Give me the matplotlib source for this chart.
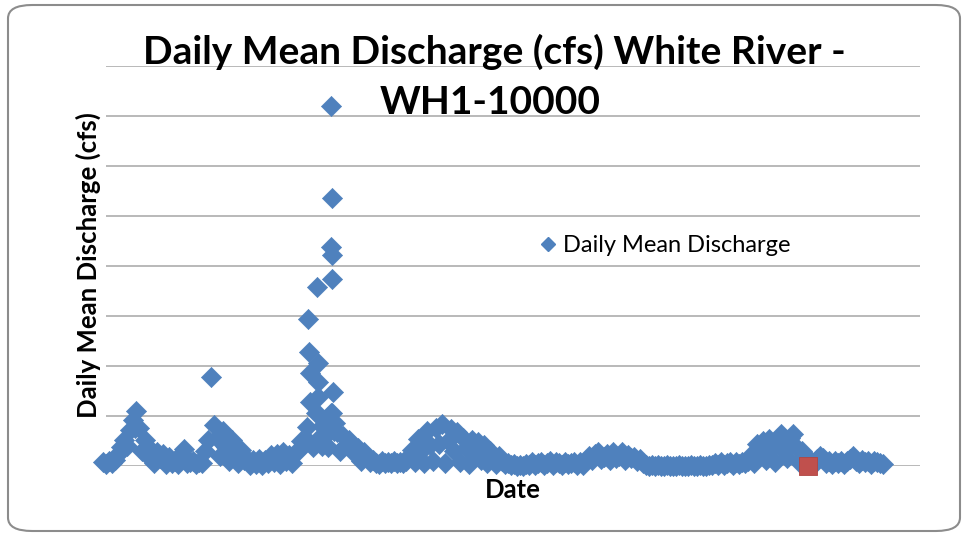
import numpy as np
import matplotlib
matplotlib.use("Agg")
import matplotlib.pyplot as plt
from matplotlib.patches import FancyBboxPatch
from matplotlib.lines import Line2D

plt.rcParams['font.family'] = ['Lato', 'DejaVu Sans']

# daily mean discharge (cfs), one reading every 3 days from day 0
step = 3
flow = [
    80, 50, 100, 60, 120, 240, 380, 520, 400, 720,
    920, 1100, 760, 300, 520, 200, 320, 60, 280, 160,
    240, 40, 180, 60, 100, 40, 240, 340, 60, 80,
    100, 40, 90, 60, 300, 520, 1780, 820, 560, 200,
    700, 380, 100, 520, 300, 60, 320, 120, 140, 20,
    120, 40, 140, 20, 120, 60, 220, 80, 240, 40,
    280, 100, 220, 60, 260, 300, 500, 440, 780, 460,
    380, 1060, 560, 400, 600, 380, 1060, 700, 680, 300,
    600, 420, 520, 440, 240, 360, 100, 280, 200, 80,
    120, 60, 40, 100, 60, 90, 60, 100, 60, 90,
    70, 100, 200, 320, 80, 540, 300, 60, 700, 420,
    100, 760, 440, 840, 60, 500, 740, 300, 680, 80,
    560, 360, 40, 520, 260, 480, 120, 420, 60, 300,
    180, 40, 200, 100, 40, 60, 20, 40, 10, 30,
    10, 40, 20, 80, 20, 60, 80, 20, 60, 100,
    30, 80, 60, 20, 80, 40, 60, 90, 30, 80,
    20, 120, 200, 120, 240, 280, 140, 180, 240, 120,
    280, 160, 200, 280, 120, 220, 160, 180, 100, 140,
    60, 20, 10, 20, 10, 15, 10, 10, 15, 10,
    10, 10, 15, 10, 10, 10, 15, 10, 10, 15,
    10, 10, 20, 15, 60, 20, 80, 30, 70, 80,
    20, 80, 40, 80, 60, 100, 220, 60, 440, 300,
    500, 120, 540, 360, 80, 560, 640, 300, 160, 560,
    640, 380, 80, 300, 200, 60, 100, 40, 140, 200,
    160, 60, 100, 40, 100, 60, 100, 40, 100, 140,
    200, 100, 60, 120, 80, 100, 40, 100, 80, 60,
    40,
]
days = np.arange(len(flow)) * step

# extra readings taken during the big storm
storm_days = [228, 229, 228, 229, 229, 214, 205, 206, 215, 207, 215, 230, 207,
              215, 214, 229, 32, 219, 223, 232]
storm_flow = [7200, 5360, 4380, 4220, 3740, 3580, 2940, 2280, 2060, 1860, 1680,
              1480, 1280, 1380, 1060, 1060, 760, 800, 880, 860]

# single sample reading
sample_day = [705]
sample_flow = [0]

all_days = np.concatenate([days, storm_days])
all_flow = np.concatenate([flow, storm_flow])

blue = '#4F81BD'
red = '#C0504D'

fig = plt.figure(figsize=(9.66, 5.36), dpi=100)
ax = fig.add_axes([106 / 966, 1 - 466 / 536, 814 / 966, 400 / 536])

ax.scatter(all_days, all_flow, marker='D', s=105, color=blue,
           edgecolors=blue, linewidths=0.5, zorder=3, clip_on=False)
ax.scatter(sample_day, sample_flow, marker='s', s=185, color=red,
           edgecolors='#B04542', linewidths=0.6, zorder=4, clip_on=False)

ax.set_xlim(3, 817)
ax.set_ylim(0, 8000)
ax.set_yticks(np.arange(0, 8001, 1000))
ax.set_xticks([])
ax.tick_params(left=False, labelleft=False, bottom=False, labelbottom=False)
ax.grid(axis='y', color='#A6A6A6', linewidth=1.1, zorder=0)
for s in ax.spines.values():
    s.set_visible(False)

handle = Line2D([], [], linestyle='none', marker='D', markersize=7.5,
                color=blue, markeredgecolor=blue)
ax.legend([handle], ['Daily Mean Discharge'], frameon=False,
          loc='center left', bbox_to_anchor=(528 / 966, 1 - 246 / 536),
          bbox_transform=fig.transFigure, fontsize=17, handletextpad=0.2,
          handlelength=0.9, borderaxespad=0)

fig.text(494 / 966, 1 - 52 / 536, 'Daily Mean Discharge (cfs) White River -',
         ha='center', va='center', fontsize=28, fontweight='bold')
fig.text(490 / 966, 1 - 103 / 536, 'WH1-10000',
         ha='center', va='center', fontsize=28, fontweight='bold')
fig.text(88 / 966, 1 - 265 / 536, 'Daily Mean Discharge (cfs)',
         ha='center', va='center', rotation=90, fontsize=18.5, fontweight='bold')
fig.text(513 / 966, 1 - 490 / 536, 'Date',
         ha='center', va='center', fontsize=18.5, fontweight='bold')

# rounded chart border
frame = FancyBboxPatch((8 / 966, 5 / 536), 952 / 966, 526 / 536,
                       boxstyle='round,pad=0,rounding_size=0.025',
                       transform=fig.transFigure, facecolor='none',
                       edgecolor='#8C8C8C', linewidth=1.5)
fig.patches.append(frame)

fig.savefig('out.png', dpi=100)
